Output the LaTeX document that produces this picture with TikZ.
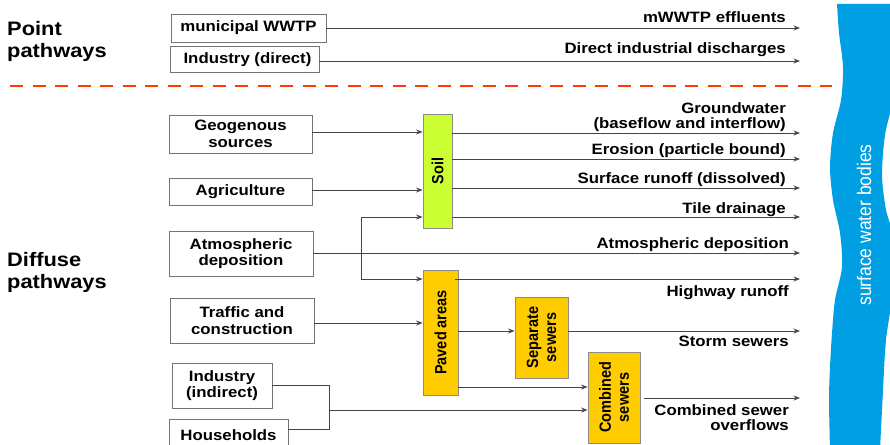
\documentclass[tikz,border=0pt]{standalone}
\usepackage{fontspec}
\setmainfont{Liberation Sans}[FakeStretch=1.12]
\newfontfamily\rotfont{Liberation Sans}
\usetikzlibrary{arrows.meta}
\definecolor{soilgreen}{HTML}{CCFF33}
\definecolor{pavedyellow}{HTML}{FFCC00}
\definecolor{riverblue}{HTML}{009FE3}
\definecolor{dashred}{HTML}{FF3C00}
\definecolor{linegray}{HTML}{454545}
\begin{document}
\begin{tikzpicture}[x=1pt,y=-1pt,
  srcbox/.style={draw=black!55, line width=0.8pt, fill=white, inner sep=0pt, align=center,
    font=\bfseries\fontsize{15}{16.5}\selectfont},
  procbox/.style={draw=black!45, line width=0.8pt, inner sep=0pt},
  rottext/.style={rotate=90, yscale=1.12, align=center, inner sep=0pt, font=\rotfont\bfseries\fontsize{14.5}{16}\selectfont},
  lbl/.style={inner sep=0pt, font=\bfseries\fontsize{15}{15.5}\selectfont},
  side/.style={inner sep=0pt, align=left, anchor=north west, font=\bfseries\fontsize{19.5}{22}\selectfont},
  arr/.style={draw=linegray, line width=0.9pt, -{Stealth[length=6.5pt,width=5pt]}},
  ln/.style={draw=linegray, line width=0.9pt}]
\useasboundingbox (0,0) rectangle (890,444);

% river band
\fill[riverblue] plot[smooth] coordinates {(837,4)(839,33)(843,67)(841,100)(833,133)(830,167)(833,200)(840,233)(842,267)(835,300)(832,333)(830,367)(829,400)(830,450)}
  -- plot[smooth] coordinates {(880,450)(883,390)(886,340)(893,290)(894,240)(886,210)(882,175)(885,135)(893,100)(900,50)(900,4)} -- cycle;
\node[rotate=90, yscale=1.12, inner sep=0pt, text=white, font=\rotfont\fontsize{17.5}{20}\selectfont] (swb) at (864,225) {surface water bodies};

% side titles
\node[side] (pt) at (7,21) {Point\\pathways};
\node[side] (df) at (7,252) {Diffuse\\pathways};

% separator
\coordinate (d1) at (10,86);
\coordinate (d2) at (832,86);
\draw[dashred, line width=2.6pt, dash pattern=on 13pt off 9.5pt] (d1) -- (d2);

% point sources
\node[srcbox, minimum width=155pt, minimum height=28pt] (wwtp) at (248.5,28) {municipal WWTP};
\node[srcbox, minimum width=149pt, minimum height=26pt] (inddir) at (244.5,59.5) {\hspace{6pt}Industry (direct)};

% diffuse sources
\node[srcbox, minimum width=143pt, minimum height=38pt] (geo) at (240.5,134) {Geogenous\\sources};
\node[srcbox, minimum width=143pt, minimum height=27pt] (agri) at (240.5,191.5) {Agriculture};
\node[srcbox, minimum width=144pt, minimum height=45pt] (atm) at (241,253.5) {Atmospheric\\deposition};
\node[srcbox, minimum width=144pt, minimum height=45pt] (traf) at (242,320.5) {Traffic and\\construction};
\node[srcbox, minimum width=100pt, minimum height=45pt] (indind) at (222,385.5) {Industry\\(indirect)};
\node[srcbox, minimum width=119pt, minimum height=32pt] (house) at (228.5,435) {Households};

% process boxes
\node[procbox, fill=soilgreen, minimum width=29pt, minimum height=114pt] (soil) at (437.5,171) {};
\node[rottext] (soilT) at (soil) {Soil};
\node[procbox, fill=pavedyellow, minimum width=35pt, minimum height=125pt] (paved) at (440.5,332.5) {};
\node[rottext] (pavedT) at (paved) {Paved areas};
\node[procbox, fill=pavedyellow, minimum width=53pt, minimum height=81pt] (sep) at (541.5,337.5) {};
\node[rottext] (sepT) at (sep) {Separate\\sewers};
\node[procbox, fill=pavedyellow, minimum width=52pt, minimum height=91pt] (comb) at (614,397.5) {};
\node[rottext] (combT) at (comb) {Combined\\sewers};

% end coordinates
\coordinate (e1) at (800,28);
\coordinate (e2) at (800,61);
\coordinate (g1) at (800,133);
\coordinate (g2) at (800,159);
\coordinate (g3) at (800,188);
\coordinate (g4) at (800,217);
\coordinate (g5) at (800,253);
\coordinate (g6) at (800,279);
\coordinate (g7) at (800,331);
\coordinate (g8) at (800,398);

% point connectors
\draw[arr] (wwtp.east) -- (e1);
\draw[arr] (inddir.east |- e2) -- (e2);

% into soil
\draw[arr] (geo.east |- 0,132) -- (soil.west |- 0,132);
\draw[arr] (agri.east |- 0,190) -- (soil.west |- 0,190);
\coordinate (bs) at (361,217);
\coordinate (bp) at (361,279);
\draw[arr] (bs) -- (bs -| soil.west);
\draw[arr] (bs) -- (bp) -- (bp -| paved.west);
\draw[arr] (atm.east |- g5) -- (g5);

% soil outputs
\draw[arr] (soil.east |- g1) -- (g1);
\draw[arr] (soil.east |- g2) -- (g2);
\draw[arr] (soil.east |- g3) -- (g3);
\draw[arr] (soil.east |- g4) -- (g4);

% paved
\draw[arr] (traf.east |- 0,323) -- (paved.west |- 0,323);
\draw[arr] ([xshift=-3pt]paved.east |- g6) -- (g6);
\draw[arr] (paved.east |- g7) -- (sep.west |- g7);
\draw[arr] (sep.east |- g7) -- (g7);
\draw[arr] (paved.east |- 0,387) -- (comb.west |- 0,387);

% industry + households
\coordinate (mj) at (329,410);
\draw[ln] (indind.east |- 0,385) -- (329,385) -- (329,429) -- (house.east |- 0,429);
\draw[arr] (mj) -- (comb.west |- mj);
\draw[arr] ([xshift=4pt]comb.east |- g8) -- (g8);

% labels
\node[lbl, anchor=base east] (l1) at (786,22.5) {mWWTP effluents};
\node[lbl, anchor=base east] (l2) at (786,53.5) {Direct industrial discharges};
\node[lbl, anchor=north east, align=right] (l3) at (786,102) {Groundwater\\(baseflow and interflow)};
\node[lbl, anchor=base east] (l4) at (786,154) {Erosion (particle bound)};
\node[lbl, anchor=base east] (l5) at (786,183) {Surface runoff (dissolved)};
\node[lbl, anchor=base east] (l6) at (786,213) {Tile drainage};
\node[lbl, anchor=base east] (l7) at (789,248) {Atmospheric deposition};
\node[lbl, anchor=base east] (l8) at (789,296) {Highway runoff};
\node[lbl, anchor=base east] (l9) at (789,346) {Storm sewers};
\node[lbl, anchor=north east, align=right] (l10) at (789,404) {Combined sewer\\overflows};
\end{tikzpicture}
\end{document}
